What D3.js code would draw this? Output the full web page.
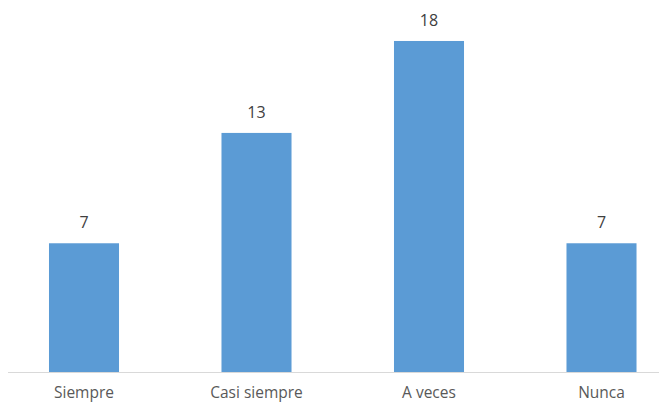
<!DOCTYPE html>
<html><head><meta charset="utf-8">
<script src="https://cdn.jsdelivr.net/npm/d3@7"></script>
<style>body{margin:0;background:#fff}svg{display:block}</style>
</head><body>
<svg id="c" width="659" height="403"></svg>
<script>
const categories = ["Siempre", "Casi siempre", "A veces", "Nunca"];
const values = [7, 13, 18, 7];

const svg = d3.select("#c");
const baseY = 372;
const x = d3.scaleBand().domain(categories).range([-2.25, 687.75]).paddingInner(0.594).paddingOuter(0.297);
const y = d3.scaleLinear().domain([0, 20]).range([baseY, baseY - 20 * 18.39]);

svg.append("line").attr("x1", 8).attr("x2", 659).attr("y1", baseY + 0.5).attr("y2", baseY + 0.5)
  .attr("stroke", "#D9D9D9").attr("stroke-width", 1);

svg.selectAll("rect.bar").data(values).join("rect").attr("class", "bar")
  .attr("x", (d, i) => x(categories[i]))
  .attr("width", x.bandwidth())
  .attr("y", d => y(d))
  .attr("height", d => baseY - y(d))
  .attr("fill", "#5B9BD5");

svg.selectAll("text.val").data(values).join("text").attr("class", "val")
  .attr("x", (d, i) => x(categories[i]) + x.bandwidth() / 2)
  .attr("y", d => y(d) - 15)
  .attr("text-anchor", "middle")
  .attr("font-family", "'Open Sans', 'Liberation Sans', sans-serif")
  .attr("font-size", 16).attr("fill", "#404040")
  .text(d => d);

svg.selectAll("text.cat").data(categories).join("text").attr("class", "cat")
  .attr("x", d => x(d) + x.bandwidth() / 2)
  .attr("y", 397.5)
  .attr("text-anchor", "middle")
  .attr("font-family", "'Open Sans', 'Liberation Sans', sans-serif")
  .attr("font-size", 15.5).attr("fill", "#595959")
  .text(d => d);
</script>
</body></html>
